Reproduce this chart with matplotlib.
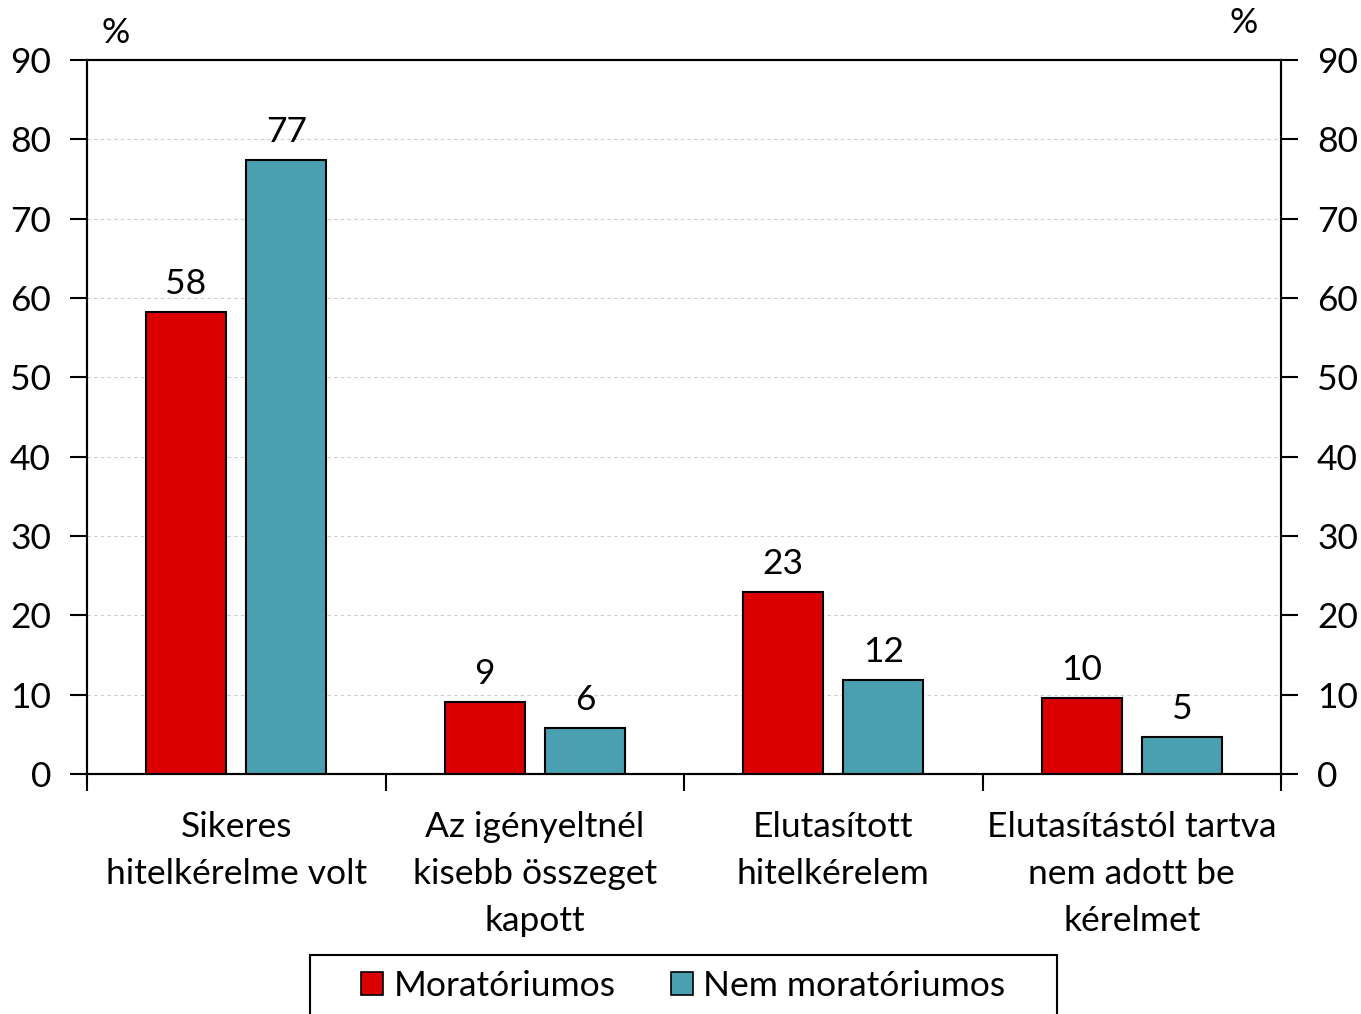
import numpy as np
import matplotlib
matplotlib.use("Agg")
import matplotlib.pyplot as plt
from matplotlib.patches import Patch, Rectangle

plt.rcParams['font.family'] = ['Lato', 'DejaVu Sans']

categories = ["Sikeres\nhitelkérelme volt",
              "Az igényeltnél\nkisebb összeget\nkapott",
              "Elutasított\nhitelkérelem",
              "Elutasítástól tartva\nnem adott be\nkérelmet"]
moratoriumos = [58.2, 9.1, 22.9, 9.6]
nem_moratoriumos = [77.4, 5.8, 11.9, 4.7]
series_names = ["Moratóriumos", "Nem moratóriumos"]
y_ticks = [0, 10, 20, 30, 40, 50, 60, 70, 80, 90]

red = "#DA0000"
teal = "#4AA0B0"
fs = 25.5
W, H = 1361, 1014

fig = plt.figure(figsize=(W / 100, H / 100), dpi=100)
ax = fig.add_axes([87 / W, 1 - 774 / H, (1281 - 87) / W, (774 - 60) / H])

x = np.arange(len(categories))
w = 0.268
off = 0.168
b1 = ax.bar(x - off, moratoriumos, w, color=red, edgecolor="black", linewidth=1.5, zorder=3)
b2 = ax.bar(x + off, nem_moratoriumos, w, color=teal, edgecolor="black", linewidth=1.5, zorder=3)

for bars in (b1, b2):
    for r in bars:
        ax.text(r.get_x() + r.get_width() / 2, r.get_height() + 1.5, f"{r.get_height():.0f}",
                ha="center", va="bottom", fontsize=fs)

ax.set_xlim(-0.5, len(categories) - 0.5)
ax.set_ylim(0, 90)
ax.set_yticks(y_ticks)
ax.tick_params(axis="y", direction="out", length=12, width=1.5, labelsize=fs, pad=14)
ax.yaxis.grid(True, color="#cccccc", linestyle=(0, (3, 3)), linewidth=0.8, zorder=0)

# category separators as x ticks
ax.set_xticks(np.arange(-0.5, len(categories), 1.0))
ax.set_xticklabels([])
ax.tick_params(axis="x", direction="out", length=12, width=1.5)
for i, c in enumerate(categories):
    ax.text(i, -4.7, c, ha="center", va="top", fontsize=fs, linespacing=1.58)

for s in ax.spines.values():
    s.set_linewidth(1.5)

ax2 = ax.twinx()
ax2.set_ylim(0, 90)
ax2.set_yticks(y_ticks)
ax2.tick_params(axis="y", direction="out", length=12, width=1.5, labelsize=fs, pad=14)
for s in ax2.spines.values():
    s.set_linewidth(1.5)

fig.text(116 / W, 1 - 33 / H, "%", ha="center", va="center", fontsize=fs)
fig.text(1244 / W, 1 - 23 / H, "%", ha="center", va="center", fontsize=fs)

# legend box runs off the bottom edge like in the original
fig.patches.append(Rectangle((310 / W, -0.02), (1057 - 310) / W, (H - 955) / H + 0.02,
                             transform=fig.transFigure, facecolor="white",
                             edgecolor="black", linewidth=1.5, zorder=1))
handles = [Patch(facecolor=red, edgecolor="black", linewidth=1.2),
           Patch(facecolor=teal, edgecolor="black", linewidth=1.2)]
leg = fig.legend(handles, series_names, loc="center", ncol=2,
                 bbox_to_anchor=(683.5 / W, 1 - 986 / H), fontsize=fs,
                 frameon=False, handlelength=0.62, handleheight=0.62,
                 handletextpad=0.3, columnspacing=1.55, borderpad=0)
leg.set_zorder(2)

fig.savefig("out.png", dpi=100)
